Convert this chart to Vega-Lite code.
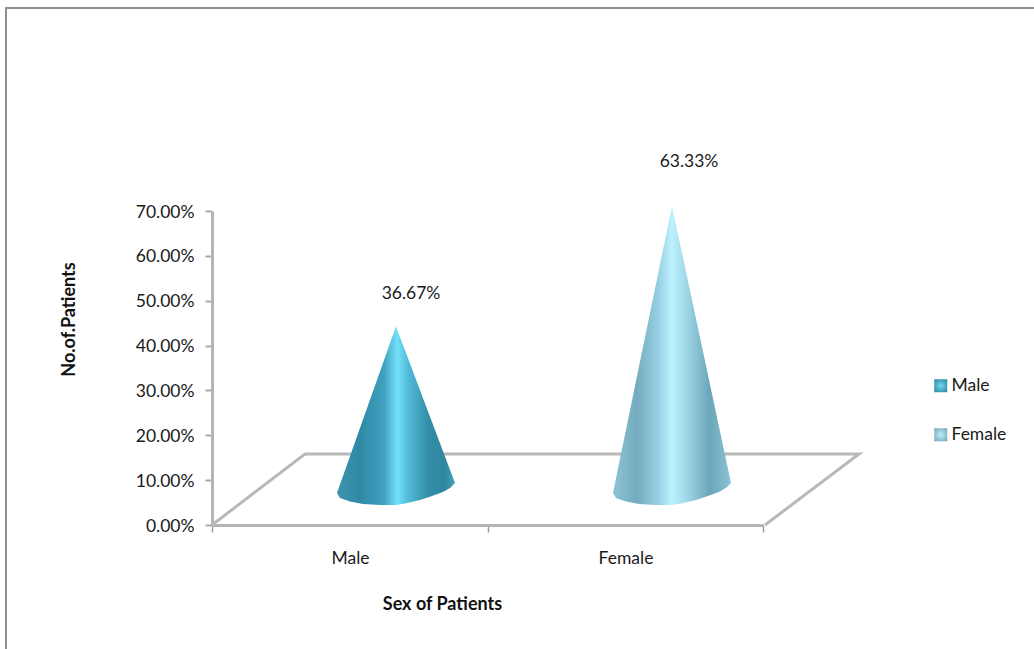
{
  "$schema": "https://vega.github.io/schema/vega-lite/v6.json",
  "width": 551,
  "height": 314,
  "autosize": {"type": "none"},
  "padding": {"left": 212, "top": 211, "right": 271, "bottom": 124},
  "background": "white",
  "config": {
    "view": {"stroke": null},
    "font": "Lato",
    "text": {"font": "Lato", "fontSize": 17.5, "color": "#1a1a1a"}
  },
  "datasets": {
    "frame": [
      {"step": 1, "pos": -1.4955, "share": -0.2764},
      {"step": 2, "pos": -1.4955, "share": 1.1525},
      {"step": 3, "pos": 5.967, "share": 1.1525}
    ],
    "floor": [
      {"step": 1, "pos": 0, "share": 0},
      {"step": 2, "pos": 0.675, "share": 0.1583},
      {"step": 3, "pos": 4.697, "share": 0.1583},
      {"step": 4, "pos": 4.014, "share": 0}
    ],
    "cones": [
      {"sex": "Male", "pos": 0.9074, "share": -0.0045, "base": -0.0045},
      {"sex": "Male", "pos": 0.9292, "share": 0.0143, "base": -0.0157},
      {"sex": "Male", "pos": 1.0018, "share": 0.0774, "base": -0.0235},
      {"sex": "Male", "pos": 1.0962, "share": 0.1593, "base": -0.0291},
      {"sex": "Male", "pos": 1.2196, "share": 0.2662, "base": -0.0313},
      {"sex": "Male", "pos": 1.314, "share": 0.3481, "base": -0.0313},
      {"sex": "Male", "pos": 1.3358, "share": 0.3667, "base": -0.0313},
      {"sex": "Male", "pos": 1.4011, "share": 0.3136, "base": -0.028},
      {"sex": "Male", "pos": 1.51, "share": 0.2248, "base": -0.0201},
      {"sex": "Male", "pos": 1.5971, "share": 0.1539, "base": -0.0112},
      {"sex": "Male", "pos": 1.6769, "share": 0.0888, "base": -0.0022},
      {"sex": "Male", "pos": 1.7278, "share": 0.0474, "base": 0.0067},
      {"sex": "Male", "pos": 1.7641, "share": 0.0179, "base": 0.0179},
      {"sex": "Female", "pos": 2.9111, "share": -0.0045, "base": -0.0045},
      {"sex": "Female", "pos": 2.9328, "share": 0.0282, "base": -0.0157},
      {"sex": "Female", "pos": 3.0054, "share": 0.1365, "base": -0.0235},
      {"sex": "Female", "pos": 3.0998, "share": 0.2774, "base": -0.0291},
      {"sex": "Female", "pos": 3.2232, "share": 0.4617, "base": -0.0313},
      {"sex": "Female", "pos": 3.3176, "share": 0.6029, "base": -0.0313},
      {"sex": "Female", "pos": 3.3394, "share": 0.6333, "base": -0.0313},
      {"sex": "Female", "pos": 3.4047, "share": 0.5412, "base": -0.028},
      {"sex": "Female", "pos": 3.5136, "share": 0.3841, "base": -0.0201},
      {"sex": "Female", "pos": 3.6007, "share": 0.2586, "base": -0.0112},
      {"sex": "Female", "pos": 3.6806, "share": 0.1434, "base": -0.0022},
      {"sex": "Female", "pos": 3.7314, "share": 0.0702, "base": 0.0067},
      {"sex": "Female", "pos": 3.7677, "share": 0.0179, "base": 0.0179}
    ],
    "labels": [
      {"sex": "Male", "pos": 1.3358, "share": 0.3667},
      {"sex": "Female", "pos": 3.3394, "share": 0.6333}
    ]
  },
  "encoding": {
    "x": {
      "field": "pos",
      "type": "quantitative",
      "scale": {"domain": [0, 4], "nice": false, "zero": false},
      "axis": {
        "values": [0, 2, 4],
        "labelExpr": "datum.value == 0 ? 'Male' : datum.value == 2 ? 'Female' : ''",
        "labelOffset": 138,
        "labelOverlap": false,
        "labelBound": false,
        "labelFlush": false,
        "labelFont": "Lato",
        "labelFontSize": 17.5,
        "labelColor": "#1a1a1a",
        "labelPadding": 17,
        "grid": false,
        "domainColor": "#b4b4b4",
        "domainWidth": 3,
        "tickColor": "#9a9a9a",
        "tickWidth": 1.5,
        "tickSize": 7,
        "title": "Sex of Patients",
        "titleFont": "Lato",
        "titleFontSize": 18,
        "titleFontWeight": "bold",
        "titleColor": "#111111",
        "titleX": 230,
        "titleY": 70,
        "titleAnchor": "middle"
      }
    },
    "y": {
      "field": "share",
      "type": "quantitative",
      "scale": {"domain": [0, 0.7], "nice": false, "zero": false},
      "axis": {
        "values": [0, 0.1, 0.2, 0.3, 0.4, 0.5, 0.6, 0.7],
        "format": ".2%",
        "labelFont": "Lato",
        "labelFontSize": 17.5,
        "labelColor": "#1a1a1a",
        "labelPadding": 11,
        "labelOffset": 1,
        "grid": false,
        "domainColor": "#b4b4b4",
        "domainWidth": 3,
        "tickColor": "#a8a8a8",
        "tickWidth": 2,
        "tickSize": 7,
        "title": "No.of.Patients",
        "titleFont": "Lato",
        "titleFontSize": 18,
        "titleFontWeight": "bold",
        "titleColor": "#111111",
        "titleX": -134,
        "titleY": 108,
        "titleAnchor": "middle"
      }
    }
  },
  "layer": [
    {
      "data": {"name": "frame"},
      "mark": {"type": "line", "stroke": "#8f8f8f", "strokeWidth": 2, "clip": false},
      "encoding": {"order": {"field": "step"}}
    },
    {
      "data": {"name": "floor"},
      "mark": {"type": "line", "stroke": "#b8b8b8", "strokeWidth": 3, "clip": false},
      "encoding": {"order": {"field": "step"}}
    },
    {
      "data": {"name": "cones"},
      "transform": [{"filter": "datum.sex == 'Male'"}],
      "mark": {
        "type": "area", "yOffset": -34, "y2Offset": -34, "clip": false,
        "fill": {
          "gradient": "linear", "x1": 0, "y1": 0.5, "x2": 1, "y2": 0.5,
          "stops": [
            {"offset": 0, "color": "#3c93ad"},
            {"offset": 0.2, "color": "#3089a4"},
            {"offset": 0.4, "color": "#3fa2bf"},
            {"offset": 0.51, "color": "#74e0f8"},
            {"offset": 0.6, "color": "#52bcd9"},
            {"offset": 0.78, "color": "#338ca6"},
            {"offset": 0.92, "color": "#3087a1"},
            {"offset": 1, "color": "#46a5c0"}
          ]
        }
      },
      "encoding": {"y2": {"field": "base"}}
    },
    {
      "data": {"name": "cones"},
      "transform": [{"filter": "datum.sex == 'Female'"}],
      "mark": {
        "type": "area", "yOffset": -34, "y2Offset": -34, "clip": false,
        "fill": {
          "gradient": "linear", "x1": 0, "y1": 0.5, "x2": 1, "y2": 0.5,
          "stops": [
            {"offset": 0, "color": "#8cc4d6"},
            {"offset": 0.2, "color": "#74abbf"},
            {"offset": 0.38, "color": "#96cfe2"},
            {"offset": 0.5, "color": "#bdf0fc"},
            {"offset": 0.62, "color": "#a0d8e9"},
            {"offset": 0.82, "color": "#6ba5b9"},
            {"offset": 1, "color": "#8cc4d6"}
          ]
        }
      },
      "encoding": {"y2": {"field": "base"}}
    },
    {
      "data": {"name": "labels"},
      "mark": {
        "type": "point",
        "filled": true,
        "opacity": 0,
        "clip": false,
        "fill": {
          "expr": "{gradient: 'radial', x1: 0.5, y1: 0.5, r1: 0, x2: 0.5, y2: 0.5, r2: 0.7, stops: datum.value == 'Male' ? [{offset: 0, color: '#6ddcf6'}, {offset: 1, color: '#2c7f98'}] : [{offset: 0, color: '#bdf0fc'}, {offset: 1, color: '#6da2b6'}]}"
        }
      },
      "encoding": {
        "shape": {
          "field": "sex",
          "type": "nominal",
          "scale": {"domain": ["Male", "Female"], "range": ["square", "square"]},
          "legend": {
            "orient": "none",
            "legendX": 720,
            "legendY": 166,
            "title": null,
            "symbolSize": 169,
            "symbolStrokeWidth": 0,
            "rowPadding": 30,
            "labelFont": "Lato",
            "labelFontSize": 17.5,
            "labelColor": "#1a1a1a",
            "labelOffset": 2,
            "encoding": {"symbols": {"opacity": {"value": 1}}}
          }
        }
      }
    },
    {
      "data": {"name": "labels"},
      "transform": [{"filter": "datum.sex == 'Male'"}],
      "mark": {"type": "text", "dx": 15, "dy": -67, "clip": false},
      "encoding": {"text": {"field": "share", "type": "quantitative", "format": ".2%"}}
    },
    {
      "data": {"name": "labels"},
      "transform": [{"filter": "datum.sex == 'Female'"}],
      "mark": {"type": "text", "dx": 17, "dy": -79, "clip": false},
      "encoding": {"text": {"field": "share", "type": "quantitative", "format": ".2%"}}
    }
  ]
}
